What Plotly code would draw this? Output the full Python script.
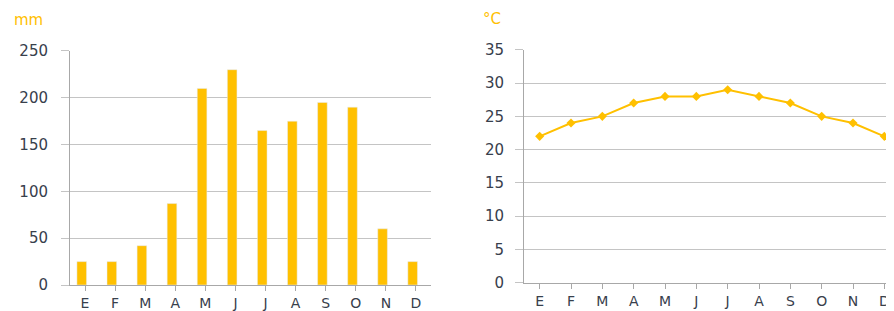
import plotly.graph_objects as go

months = ["E", "F", "M", "A", "M", "J", "J", "A", "S", "O", "N", "D"]
precip_mm = [25, 25, 42, 87, 210, 230, 165, 175, 195, 190, 60, 25]
temp_c = [22, 24, 25, 27, 28, 28, 29, 28, 27, 25, 24, 22]
precip_ticks = [0, 50, 100, 150, 200, 250]
temp_ticks = [0, 5, 10, 15, 20, 25, 30, 35]

idx = list(range(len(months)))
ORANGE = "#FFC000"
TXT = "#38404c"
GRID = "#c4c4c4"
AX = "#a8a8a8"
FONT = "DejaVu Sans"
W, H = 894, 311
OFF = 8  # page body offset


def px(x):
    return (x - OFF) / W


def py(y):
    return (H - (y - OFF)) / H


fig = go.Figure()
fig.add_trace(go.Bar(x=idx, y=precip_mm, marker_color=ORANGE, width=0.32,
                     offset=-0.27, xaxis="x", yaxis="y", showlegend=False))
fig.add_trace(go.Scatter(x=idx, y=temp_c, mode="lines+markers",
                         line=dict(color=ORANGE, width=2),
                         marker=dict(symbol="diamond", size=7, color=ORANGE),
                         cliponaxis=False,
                         xaxis="x2", yaxis="y2", showlegend=False))

common_x = dict(tickmode="array", tickvals=idx, ticktext=months,
                showgrid=False, showline=True, linecolor=AX, linewidth=1,
                ticks="outside", ticklen=5, tickcolor=AX, automargin=False,
                tickfont=dict(family=FONT, size=14, color=TXT), zeroline=False)
common_y = dict(showgrid=True, gridcolor=GRID, gridwidth=1, showline=True,
                linecolor=AX, linewidth=1, ticks="outside", ticklen=8,
                tickcolor=GRID, zeroline=False, automargin=False,
                tickfont=dict(family=FONT, size=15, color=TXT))

fig.update_layout(
    width=W, height=H, margin=dict(l=0, r=0, t=0, b=0),
    paper_bgcolor="white", plot_bgcolor="white",
    xaxis=dict(domain=[px(70), px(431)], range=[-0.5, 11.5], anchor="y", **common_x),
    yaxis=dict(domain=[py(285), py(50.5)], range=[0, 250.5], ticklabelstandoff=10,
               tickvals=precip_ticks, anchor="x", **common_y),
    xaxis2=dict(domain=[px(524), px(900)], range=[-0.5, 11.5], anchor="y2", **common_x),
    yaxis2=dict(domain=[py(282.7), py(49.5)], range=[0, 35.05], ticklabelstandoff=8,
                tickvals=temp_ticks, anchor="x2", **common_y),
    annotations=[
        dict(text="mm", x=px(12), y=py(20), xref="paper", yref="paper",
             xanchor="left", yanchor="middle", showarrow=False,
             font=dict(family=FONT, size=15, color=ORANGE)),
        dict(text="°C", x=px(481), y=py(19), xref="paper", yref="paper",
             xanchor="left", yanchor="middle", showarrow=False,
             font=dict(family=FONT, size=15, color=ORANGE)),
    ],
)
fig.update_xaxes(tickson="boundaries")

fig.write_html("out.html")
